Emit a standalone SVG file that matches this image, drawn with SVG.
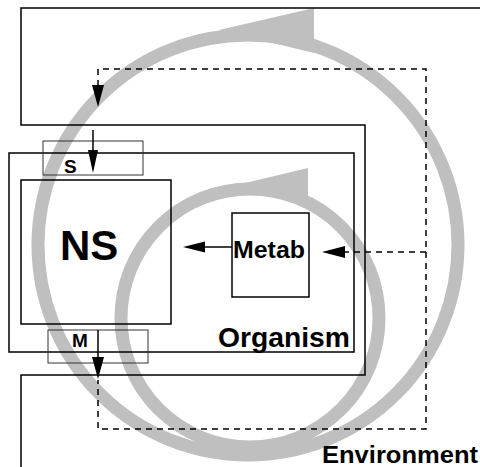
<svg xmlns="http://www.w3.org/2000/svg" width="480" height="467" viewBox="0 0 480 467">
<style>
.loop{fill:none;stroke:#bfbfbf;stroke-width:13}
.loophead{fill:#bfbfbf;stroke:none}
.box{fill:none;stroke:#000;stroke-width:1.5}
.port{fill:none;stroke:#333;stroke-width:1}
.solid{fill:none;stroke:#000;stroke-width:1.5}
.dash{fill:none;stroke:#000;stroke-width:1.5;stroke-dasharray:6 5}
.head{fill:#000;stroke:none}
text{font-family:"Liberation Sans",Arial,Helvetica,sans-serif;font-weight:bold;fill:#000}
</style>
<rect width="480" height="467" fill="#fff"/>
<g id="loops">
  <circle class="loop" cx="248" cy="245" r="210"/>
  <polygon class="loophead" points="314,8 314,53 219,30"/>
  <circle class="loop" cx="250" cy="318" r="129"/>
  <polygon class="loophead" points="308,168 308,200 241,184"/>
</g>
<g id="environment">
  <polyline class="box" points="480,8 21,8 21,125 365,125 365,375 21,375 21,467"/>
  <text x="322" y="463" font-size="24" textLength="156" lengthAdjust="spacingAndGlyphs">Environment</text>
</g>
<g id="organism">
  <rect class="box" x="9" y="153" width="345" height="199"/>
  <text x="218" y="347" font-size="27" textLength="132" lengthAdjust="spacingAndGlyphs">Organism</text>
</g>
<g id="s">
  <rect class="port" x="43" y="141" width="100" height="34"/>
  <text x="64" y="173" font-size="19">S</text>
</g>
<g id="m">
  <rect class="port" x="48" y="330" width="100" height="33"/>
  <text x="72" y="347" font-size="19">M</text>
</g>
<g id="ns">
  <rect class="box" x="21" y="180" width="150" height="144"/>
  <text x="60" y="260" font-size="42">NS</text>
</g>
<g id="metab">
  <rect class="box" x="232" y="213" width="77" height="84"/>
  <text x="233" y="258" font-size="24" textLength="72" lengthAdjust="spacingAndGlyphs">Metab</text>
</g>
<g id="connectors">
  <path class="dash" d="M98,86 V69 H426 V429 H98 V380"/>
  <polygon class="head" points="92,85 104,85 98,107"/>
  <path class="dash" d="M426,252 H344"/>
  <polygon class="head" points="345,246 345,258 322,252"/>
  <path class="solid" d="M93,130 V152"/>
  <polygon class="head" points="88,150 98,150 93,173"/>
  <path class="solid" d="M232,247 H203"/>
  <polygon class="head" points="205,241.5 205,252.5 183,247"/>
  <path class="solid" d="M98,330 V358"/>
  <polygon class="head" points="92,357 104,357 98,379"/>
</g>
</svg>
